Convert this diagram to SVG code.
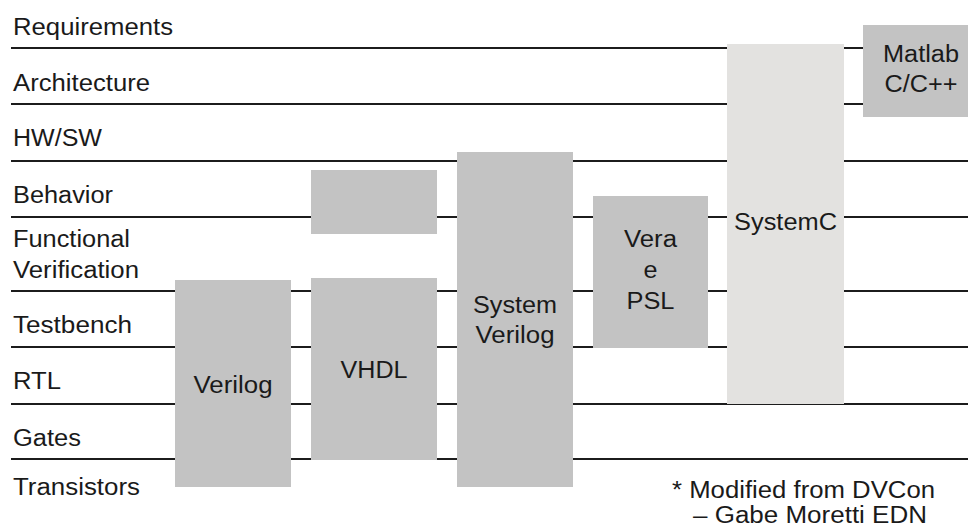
<svg xmlns="http://www.w3.org/2000/svg" width="968" height="531" viewBox="0 0 968 531">
<style>
  .lvl { stroke: #1c1c1c; stroke-width: 2; fill: none; }
  .box { fill: #c3c3c3; }
  .boxl { fill: #e3e2e0; }
  text { font-family: "Liberation Sans", Arial, Helvetica, sans-serif; font-size: 23px; fill: #1a1a1a; }
  .c { text-anchor: middle; }
</style>
<rect x="0" y="0" width="968" height="531" fill="#ffffff"/>
<g id="levels">
  <line class="lvl" x1="11" y1="48" x2="968" y2="48"/>
  <line class="lvl" x1="11" y1="104" x2="968" y2="104"/>
  <line class="lvl" x1="11" y1="161" x2="968" y2="161"/>
  <line class="lvl" x1="11" y1="217" x2="968" y2="217"/>
  <line class="lvl" x1="11" y1="291" x2="968" y2="291"/>
  <line class="lvl" x1="11" y1="347" x2="968" y2="347"/>
  <line class="lvl" x1="11" y1="404" x2="968" y2="404"/>
  <line class="lvl" x1="11" y1="459" x2="968" y2="459"/>
</g>
<g id="level-labels">
  <text x="13" y="35" textLength="160" lengthAdjust="spacingAndGlyphs">Requirements</text>
  <text x="13" y="91" textLength="137" lengthAdjust="spacingAndGlyphs">Architecture</text>
  <text x="13" y="146" textLength="89" lengthAdjust="spacingAndGlyphs">HW/SW</text>
  <text x="13" y="203" textLength="100" lengthAdjust="spacingAndGlyphs">Behavior</text>
  <text x="13" y="247" textLength="117" lengthAdjust="spacingAndGlyphs">Functional</text>
  <text x="13" y="278" textLength="126" lengthAdjust="spacingAndGlyphs">Verification</text>
  <text x="13" y="333" textLength="119" lengthAdjust="spacingAndGlyphs">Testbench</text>
  <text x="13" y="389" textLength="48" lengthAdjust="spacingAndGlyphs">RTL</text>
  <text x="13" y="446" textLength="68" lengthAdjust="spacingAndGlyphs">Gates</text>
  <text x="13" y="495" textLength="127" lengthAdjust="spacingAndGlyphs">Transistors</text>
</g>
<g id="verilog">
  <rect class="box" x="175" y="280" width="116" height="207"/>
  <text class="c" x="233" y="393" textLength="79" lengthAdjust="spacingAndGlyphs">Verilog</text>
</g>
<g id="vhdl">
  <rect class="box" x="311" y="278" width="126" height="182"/>
  <text class="c" x="374" y="378" textLength="67" lengthAdjust="spacingAndGlyphs">VHDL</text>
</g>
<g id="behavior-block">
  <rect class="box" x="311" y="170" width="126" height="64"/>
</g>
<g id="systemverilog">
  <rect class="box" x="457" y="152" width="116" height="335"/>
  <text class="c" x="515" y="313" textLength="84" lengthAdjust="spacingAndGlyphs">System</text>
  <text class="c" x="515" y="343" textLength="79" lengthAdjust="spacingAndGlyphs">Verilog</text>
</g>
<g id="vera-e-psl">
  <rect class="box" x="593" y="196" width="115" height="152"/>
  <text class="c" x="650.5" y="247" textLength="53" lengthAdjust="spacingAndGlyphs">Vera</text>
  <text class="c" x="650.5" y="278" textLength="14" lengthAdjust="spacingAndGlyphs">e</text>
  <text class="c" x="650.5" y="309" textLength="48" lengthAdjust="spacingAndGlyphs">PSL</text>
</g>
<g id="systemc">
  <rect class="boxl" x="727" y="44" width="117" height="360"/>
  <text class="c" x="785.5" y="230" textLength="103" lengthAdjust="spacingAndGlyphs">SystemC</text>
</g>
<g id="matlab">
  <rect class="box" x="863" y="25" width="105" height="92"/>
  <text class="c" x="921" y="62" textLength="76" lengthAdjust="spacingAndGlyphs">Matlab</text>
  <text class="c" x="921" y="92" textLength="73" lengthAdjust="spacingAndGlyphs">C/C++</text>
</g>
<g id="footnote">
  <text x="672" y="498" textLength="263" lengthAdjust="spacingAndGlyphs">* Modified from DVCon</text>
  <text x="693" y="523" textLength="234" lengthAdjust="spacingAndGlyphs">– Gabe Moretti EDN</text>
</g>
</svg>
